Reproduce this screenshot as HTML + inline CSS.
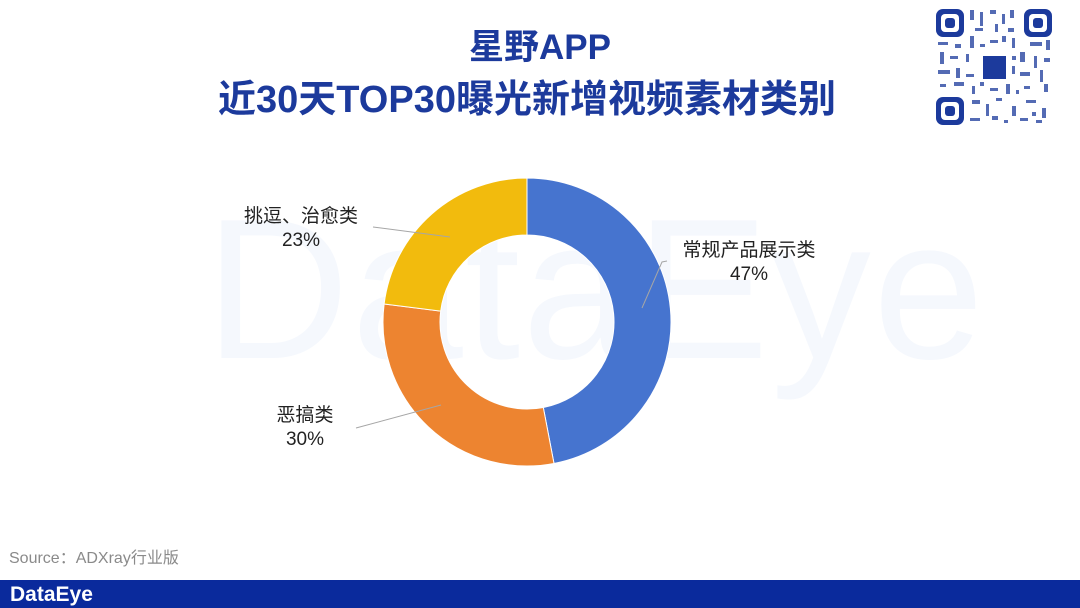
<!DOCTYPE html>
<html><head><meta charset="utf-8"><style>
body{margin:0;width:1080px;height:608px;overflow:hidden;background:#fff;font-family:"Liberation Sans","Noto Sans CJK SC",sans-serif;position:relative}
.t{position:absolute;left:0;width:1080px;text-align:center;color:#1c3a9c;font-weight:bold;font-family:"Liberation Sans","Noto Sans CJK SC",sans-serif}
.l{position:absolute;color:#222;font-size:19px;text-align:center;line-height:24px}
</style></head><body>
<div style="position:absolute;left:205px;top:190px;font-size:200px;color:#f5f8fd;letter-spacing:2px;line-height:200px">DataEye</div>
<div class="t" style="top:19px;font-size:35px">星野APP</div>
<div class="t" style="top:68px;font-size:38px;left:-13px">近30天TOP30曝光新增视频素材类别</div>
<svg style="position:absolute;left:0;top:0" width="1080" height="608">
<path d="M527,178 A144,144 0 0 1 553.99,463.45 L543.30,407.46 A87,87 0 0 0 527,235 Z" fill="#4674cf" stroke="#fff" stroke-width="1"/>
<path d="M553.99,463.45 A144,144 0 0 1 384.13,303.95 L440.69,311.10 A87,87 0 0 0 543.30,407.46 Z" fill="#ed8430" stroke="#fff" stroke-width="1"/>
<path d="M384.13,303.95 A144,144 0 0 1 527,178 L527,235 A87,87 0 0 0 440.69,311.10 Z" fill="#f2bb0d" stroke="#fff" stroke-width="1"/>
<polyline points="642,308 662,262 667,261" fill="none" stroke="#a6a6a6" stroke-width="1"/>
<line x1="450" y1="237" x2="373" y2="227" stroke="#a6a6a6" stroke-width="1"/>
<line x1="441" y1="405" x2="356" y2="428" stroke="#a6a6a6" stroke-width="1"/>
<g fill="#1c3a9c">
<rect x="936" y="9" width="28" height="28" rx="7"/><rect x="941" y="14" width="18" height="18" rx="4" fill="#fff"/><rect x="945" y="18" width="10" height="10" rx="3"/>
<rect x="1024" y="9" width="28" height="28" rx="7"/><rect x="1029" y="14" width="18" height="18" rx="4" fill="#fff"/><rect x="1033" y="18" width="10" height="10" rx="3"/>
<rect x="936" y="97" width="28" height="28" rx="7"/><rect x="941" y="102" width="18" height="18" rx="4" fill="#fff"/><rect x="945" y="106" width="10" height="10" rx="3"/>
<g opacity="0.75">
<rect x="970" y="10" width="4" height="10"/><rect x="980" y="12" width="3" height="14"/><rect x="990" y="10" width="6" height="4"/><rect x="1002" y="14" width="3" height="10"/><rect x="1010" y="10" width="4" height="8"/><rect x="975" y="28" width="8" height="3"/><rect x="995" y="24" width="3" height="8"/><rect x="1008" y="28" width="6" height="4"/>
<rect x="938" y="42" width="10" height="3"/><rect x="955" y="44" width="6" height="4"/><rect x="970" y="36" width="4" height="12"/><rect x="980" y="44" width="5" height="3"/><rect x="990" y="40" width="8" height="3"/><rect x="1002" y="36" width="4" height="6"/><rect x="1012" y="38" width="3" height="10"/><rect x="1030" y="42" width="12" height="4"/><rect x="1046" y="40" width="4" height="10"/>
<rect x="940" y="52" width="4" height="12"/><rect x="950" y="56" width="8" height="3"/><rect x="966" y="54" width="3" height="8"/><rect x="1012" y="56" width="4" height="4"/><rect x="1020" y="52" width="5" height="10"/><rect x="1034" y="56" width="3" height="12"/><rect x="1044" y="58" width="6" height="4"/>
<rect x="938" y="70" width="12" height="4"/><rect x="956" y="68" width="4" height="10"/><rect x="966" y="74" width="8" height="3"/><rect x="1012" y="66" width="3" height="8"/><rect x="1020" y="72" width="10" height="4"/><rect x="1040" y="70" width="3" height="12"/>
<rect x="940" y="84" width="6" height="3"/><rect x="954" y="82" width="10" height="4"/><rect x="972" y="86" width="3" height="8"/><rect x="980" y="82" width="4" height="4"/><rect x="990" y="88" width="8" height="3"/><rect x="1006" y="84" width="4" height="10"/><rect x="1016" y="90" width="3" height="4"/><rect x="1024" y="86" width="6" height="3"/><rect x="1044" y="84" width="4" height="8"/>
<rect x="972" y="100" width="8" height="4"/><rect x="986" y="104" width="3" height="12"/><rect x="996" y="98" width="6" height="3"/><rect x="1012" y="106" width="4" height="10"/><rect x="1026" y="100" width="10" height="3"/><rect x="1042" y="108" width="4" height="10"/><rect x="1032" y="112" width="4" height="4"/>
<rect x="970" y="118" width="10" height="3"/><rect x="992" y="116" width="6" height="4"/><rect x="1004" y="120" width="4" height="3"/><rect x="1020" y="118" width="8" height="3"/><rect x="1036" y="120" width="6" height="3"/>
</g>
<rect x="983" y="56" width="23" height="23"/>
</g>
<rect x="0" y="580" width="1080" height="28" fill="#0a2a9c"/>
<text x="10" y="601" fill="#fff" font-size="21" font-weight="bold" font-family="Liberation Sans, sans-serif">DataEye</text>
</svg>
<div class="l" style="left:226px;top:205px;width:150px">挑逗、治愈类<br>23%</div>
<div class="l" style="left:664px;top:239px;width:170px">常规产品展示类<br>47%</div>
<div class="l" style="left:258px;top:404px;width:94px">恶搞类<br>30%</div>
<div style="position:absolute;left:9px;top:544px;font-size:16px;color:#8a8a8a">Source：ADXray行业版</div>
</body></html>
